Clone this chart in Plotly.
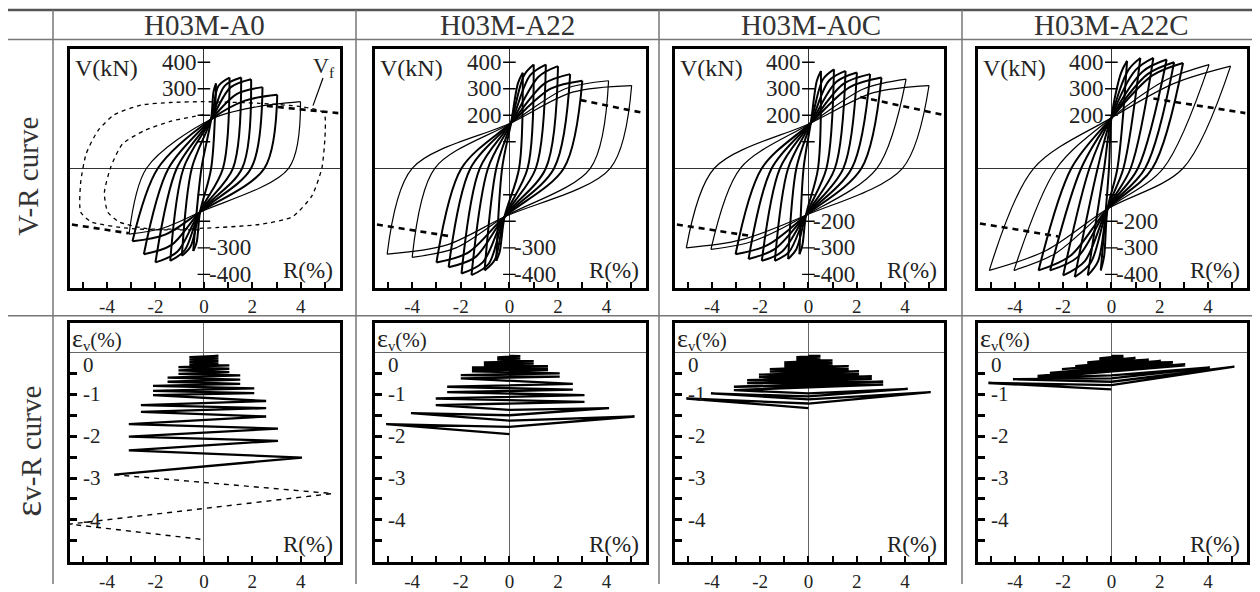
import plotly.graph_objects as go

# ---------------- data ----------------
specimens = ["H03M-A0", "H03M-A22", "H03M-A0C", "H03M-A22C"]
row_labels = ["V-R curve", "εv-R curve"]
x_tick_vals = [-4, -2, 0, 2, 4]
x_tick_text = ["-4", "-2", "0", "2", "4"]
v_tick_pos_labels = [[400, 300], [400, 300, 200], [400, 300, 200], [400, 300, 200]]
v_tick_neg_labels = [[-300, -400], [-300, -400], [-200, -300, -400], [-200, -300, -400]]
eps_tick_labels = [0, -1, -2, -3, -4]

# V-R hysteresis loops (per cycle amplitude):
# positive peak, upper-branch knee, descending zero crossing,
# negative peak, lower-branch knee, ascending zero crossing
A0_Rpos = [0.5, 1.06, 1.54, 1.95, 2.42, 3.03, 3.99]
A0_Vpos = [320, 342, 342, 336, 306, 277, 251]
A0_Rku = [0.4, 0.6, 0.85, 1.1, 1.35, 1.7, 2.2]
A0_Vku = [290, 310, 310, 305, 280, 255, 232]
A0_Rzd = [0.3, 0.79, 1.2, 1.58, 1.95, 2.5, 3.5]
A0_Rneg = [-0.44, -0.91, -1.39, -2.0, -2.48, -2.95, -3.09]
A0_Vneg = [-312, -330, -349, -355, -324, -275, -248]
A0_Rkl = [-0.3, -0.55, -0.8, -1.1, -1.35, -1.6, -1.7]
A0_Vkl = [-280, -295, -310, -315, -290, -250, -226]
A0_Rza = [-0.1, -0.5, -0.84, -1.12, -1.46, -1.9, -2.37]
A0_thick = [1, 1, 1, 1, 1, 1, 0]
A0_pinch = [(0.3, 185), (-0.16, -165)]

A22_Rpos = [0.55, 1.0, 1.5, 2.0, 2.5, 3.0, 4.08, 5.03]
A22_Vpos = [360, 391, 391, 385, 355, 330, 330, 312]
A22_Rku = [0.35, 0.6, 0.85, 1.2, 1.45, 1.7, 2.3, 2.6]
A22_Vku = [320, 350, 350, 345, 320, 300, 300, 287]
A22_Rzd = [0.4, 0.75, 1.09, 1.5, 1.84, 2.24, 3.33, 4.15]
A22_Rneg = [-0.54, -1.02, -1.56, -1.97, -2.5, -3.0, -4.0, -5.03]
A22_Vneg = [-349, -385, -403, -397, -373, -355, -336, -324]
A22_Rkl = [-0.4, -0.6, -0.85, -1.1, -1.4, -1.7, -2.2, -2.6]
A22_Vkl = [-315, -345, -360, -355, -335, -318, -300, -290]
A22_Rza = [-0.3, -0.54, -0.88, -1.22, -1.6, -1.97, -3.07, -4.0]
A22_thick = [1, 1, 1, 1, 1, 1, 0, 0]
A22_pinch = [(0.07, 171), (-0.2, -183)]

A0C_Rpos = [0.52, 1.06, 1.54, 2.01, 2.56, 3.03, 4.05, 5.0]
A0C_Vpos = [367, 373, 367, 361, 355, 342, 336, 312]
A0C_Rku = [0.35, 0.6, 0.85, 1.15, 1.45, 1.7, 2.3, 2.7]
A0C_Vku = [330, 335, 330, 325, 318, 305, 300, 285]
A0C_Rzd = [0.4, 0.75, 1.1, 1.45, 1.8, 2.2, 2.84, 3.9]
A0C_Rneg = [-0.37, -0.84, -1.39, -1.93, -2.48, -3.02, -4.04, -5.06]
A0C_Vneg = [-324, -342, -349, -349, -342, -324, -306, -300]
A0C_Rkl = [-0.25, -0.5, -0.8, -1.1, -1.4, -1.7, -2.3, -2.8]
A0C_Vkl = [-290, -305, -315, -315, -305, -290, -275, -270]
A0C_Rza = [-0.2, -0.5, -0.84, -1.18, -1.52, -1.93, -2.82, -3.9]
A0C_thick = [1, 1, 1, 1, 1, 1, 0, 0]
A0C_pinch = [(0.1, 171), (-0.1, -177)]

A22C_Rpos = [0.65, 1.2, 1.74, 2.29, 2.6, 2.97, 4.05, 4.94]
A22C_Vpos = [405, 416, 416, 410, 400, 397, 391, 385]
A22C_Rku = [0.4, 0.7, 1.0, 1.3, 1.5, 1.7, 2.3, 2.6]
A22C_Vku = [360, 370, 370, 365, 355, 350, 335, 320]
A22C_Rzd = [0.25, 0.5, 0.8, 1.1, 1.4, 1.7, 2.15, 2.97]
A22C_Rneg = [-0.44, -0.98, -1.52, -2.0, -2.54, -3.02, -4.04, -5.06]
A22C_Vneg = [-385, -404, -410, -404, -385, -385, -385, -385]
A22C_Rkl = [-0.3, -0.55, -0.85, -1.1, -1.4, -1.7, -2.3, -2.7]
A22C_Vkl = [-330, -350, -355, -350, -335, -330, -320, -310]
A22C_Rza = [-0.1, -0.3, -0.57, -0.91, -1.25, -1.66, -2.27, -3.22]
A22C_thick = [1, 1, 1, 1, 1, 1, 0, 0]
A22C_pinch = [(0.0, 190), (-0.16, -153)]

# A0 final (dashed) cycles
A0_dash_R = [0.0, -1.39, -2.48, -3.36, -3.84, -4.11, -3.97, -3.5, -2.34, -0.03, 2.29, 3.65, 4.46,
             4.87, 5.0, 5.0, 4.87, 4.05, 2.29, -0.03, -1.39, -2.61, -3.7, -4.38, -4.86, -5.09,
             -5.09, -4.65, -3.16, -1.8, 0.0]
A0_dash_V = [202, 177, 141, 92, 6, -92, -165, -202, -228, -226, -212, -183, -104, 0, 116, 196,
             214, 232, 245, 251, 248, 238, 202, 141, 55, -55, -165, -202, -226, -232, -232]

# Vf lines (positive branch, negative branch)
Vf_pos_R = [[2.6, 5.55], [2.93, 5.55], [2.15, 5.55], [1.74, 5.55]]
Vf_pos_V = [[235, 208], [257, 208], [269, 202], [263, 208]]
Vf_neg_R = [[-5.45, -3.1], [-5.45, -2.38], [-5.45, -2.27], [-5.45, -2.2]]
Vf_neg_V = [[-212, -245], [-212, -257], [-212, -257], [-208, -257]]

# volumetric strain vs drift (turning points of the sweeps)
A0_epsR = [0, 0.6, -0.6, 0.6, -0.6, 0.6, -0.6, 0.6, -0.6,
           1.05, -1.05, 1.05, -1.05, 1.05, -1.05,
           1.5, -1.5, 1.5, -1.5, 1.5,
           -2.1, 2.08, -2.1, 2.08, -2.1,
           2.57, -2.6, 2.57, -2.6, 2.57,
           -3.1, 3.06, -3.1, 3.06, -3.1,
           4.05, -3.7]
A0_eps = [-0.1, -0.08, -0.11, -0.14, -0.17, -0.20, -0.23, -0.26, -0.29,
          -0.31, -0.35, -0.39, -0.43, -0.47, -0.51,
          -0.55, -0.60, -0.65, -0.70, -0.75,
          -0.80, -0.86, -0.92, -0.97, -1.02,
          -1.16, -1.26, -1.33, -1.42, -1.53,
          -1.71, -1.82, -2.01, -2.11, -2.34,
          -2.51, -2.92]
A0_epsR_dash = [-3.7, 5.3, -5.55, 0]
A0_eps_dash = [-2.92, -3.37, -4.1, -4.47]

A22_epsR = [0, 0.45, -0.5, 0.45, -0.5, 0.45, -0.5,
            1.0, -1.05, 1.0, -1.05, 1.0, -1.05,
            1.59, -1.54, 1.59, -1.54, 1.59, -1.54,
            2.07, -2.0, 2.07, -2.0,
            2.61, -2.56, 2.61, -2.56,
            3.09, -3.03, 3.09, -3.03,
            0, 4.1, 0, -4.05, 0, 5.15, 0, -5.07, 0]
A22_eps = [-0.08, -0.09, -0.12, -0.14, -0.16, -0.18, -0.20,
           -0.21, -0.24, -0.26, -0.28, -0.30, -0.32,
           -0.33, -0.36, -0.38, -0.40, -0.42, -0.45,
           -0.50, -0.54, -0.58, -0.62,
           -0.75, -0.82, -0.89, -0.95,
           -1.02, -1.10, -1.18, -1.26,
           -1.37, -1.33, -1.50, -1.45, -1.63, -1.53, -1.78, -1.71, -1.95]

A0C_epsR = [0, 0.5, -0.5, 0.5, -0.5, 0.5, -0.5,
            1.0, -1.0, 1.0, -1.0, 1.0, -1.0,
            1.67, -1.6, 1.67, -1.6,
            2.1, -2.05, 2.1, -2.05,
            2.63, -2.54, 2.63, -2.54,
            3.1, -3.09, 3.1, -3.09,
            0, 4.12, 0, -4.04, 0, 5.07, 0, -5.06, 0]
A0C_eps = [-0.08, -0.08, -0.11, -0.12, -0.15, -0.16, -0.19,
           -0.19, -0.24, -0.25, -0.30, -0.31, -0.35,
           -0.33, -0.40, -0.40, -0.46,
           -0.45, -0.53, -0.52, -0.59,
           -0.57, -0.66, -0.63, -0.73,
           -0.70, -0.82, -0.77, -0.90,
           -0.98, -0.87, -1.05, -0.98, -1.12, -0.95, -1.22, -1.10, -1.33]

A22C_epsR = [0, 0.5, -0.5, 0.5, -0.5, 0.5, -0.5,
             1.0, -1.0, 1.0, -1.0, 1.0, -1.0,
             1.55, -1.5, 1.55, -1.5,
             2.05, -2.05, 2.05, -2.05,
             2.55, -2.55, 2.55, -2.55,
             3.06, -3.06, 3.06, -3.06,
             0, 4.08, 0, -4.08, 0, 5.1, 0, -5.1, 0]
A22C_eps = [-0.08, -0.08, -0.14, -0.11, -0.17, -0.14, -0.20,
            -0.13, -0.24, -0.16, -0.27, -0.19, -0.30,
            -0.17, -0.33, -0.20, -0.37,
            -0.20, -0.40, -0.24, -0.45,
            -0.23, -0.49, -0.27, -0.53,
            -0.28, -0.56, -0.31, -0.60,
            -0.55, -0.36, -0.62, -0.64, -0.70, -0.34, -0.78, -0.73, -0.88]

loops = [
    (A0_Rpos, A0_Vpos, A0_Rku, A0_Vku, A0_Rzd, A0_Rneg, A0_Vneg, A0_Rkl, A0_Vkl, A0_Rza,
     A0_thick, A0_pinch),
    (A22_Rpos, A22_Vpos, A22_Rku, A22_Vku, A22_Rzd, A22_Rneg, A22_Vneg, A22_Rkl, A22_Vkl,
     A22_Rza, A22_thick, A22_pinch),
    (A0C_Rpos, A0C_Vpos, A0C_Rku, A0C_Vku, A0C_Rzd, A0C_Rneg, A0C_Vneg, A0C_Rkl, A0C_Vkl,
     A0C_Rza, A0C_thick, A0C_pinch),
    (A22C_Rpos, A22C_Vpos, A22C_Rku, A22C_Vku, A22C_Rzd, A22C_Rneg, A22C_Vneg, A22C_Rkl,
     A22C_Vkl, A22C_Rza, A22C_thick, A22C_pinch),
]
eps_data = [(A0_epsR, A0_eps), (A22_epsR, A22_eps), (A0C_epsR, A0C_eps), (A22C_epsR, A22C_eps)]

# ---------------- layout geometry ----------------
OFF = 8                      # page body margin of the browser
W, H = 1260 - OFF, 592 - OFF
FONT = "Liberation Serif"
TXT = "#222222"
GRID = "#777777"


def px(x):
    return (x - OFF) / W


def py(y):
    return 1 - (y - OFF) / H


col_boxes = [(69.5, 339.5), (374.5, 645.5), (674.5, 943.5), (977.5, 1246.5)]
row_boxes = [(49.5, 291.5), (327.5, 569.5)]
col_lines = [53, 356, 659, 962]
R_RANGE = [-5.55, 5.6]
V_RANGE = [-450, 450]
E_RANGE = [-5.0, 0.7]

fig = go.Figure()
layout = dict(width=W, height=H, margin=dict(l=0, r=0, t=0, b=0), paper_bgcolor="white",
              plot_bgcolor="white", showlegend=False,
              font=dict(family=FONT, color=TXT, size=19))
annotations = []
shapes = []

for r in range(2):
    for c in range(4):
        idx = r * 4 + c + 1
        xa = "xaxis" if idx == 1 else f"xaxis{idx}"
        ya = "yaxis" if idx == 1 else f"yaxis{idx}"
        xref = "x" if idx == 1 else f"x{idx}"
        yref = "y" if idx == 1 else f"y{idx}"
        x0, x1 = col_boxes[c]
        y0, y1 = row_boxes[r]
        layout[xa] = dict(domain=[px(x0), px(x1)], range=R_RANGE, anchor=yref,
                          showline=True, mirror=True, linewidth=3, linecolor="black",
                          ticks="inside", ticklen=6, tickwidth=2, tickcolor="black",
                          tickvals=x_tick_vals, ticktext=x_tick_text,
                          minor=dict(ticks="inside", ticklen=6, tickwidth=2, tickcolor="black",
                                     tickvals=[-5, -3, -1, 1, 3, 5], showgrid=False),
                          tickfont=dict(size=19, family=FONT, color=TXT),
                          showgrid=False, zeroline=True, zerolinewidth=1,
                          zerolinecolor="#333333" if r == 0 else "#666666", fixedrange=True)
        ydict = dict(domain=[py(y1), py(y0)], anchor=xref, showline=True, mirror=True,
                     linewidth=3, linecolor="black", showgrid=False, zeroline=True,
                     zerolinewidth=1, zerolinecolor="#333333" if r == 0 else "#666666",
                     showticklabels=False, fixedrange=True)
        if r == 0:
            ydict.update(range=V_RANGE, ticks="")
        else:
            ydict.update(range=E_RANGE, ticks="inside", ticklen=7, tickwidth=2.5,
                         tickcolor="black",
                         tickvals=[-0.5, -1, -1.5, -2, -2.5, -3, -3.5, -4, -4.5])
        layout[ya] = ydict

        if r == 0:
            (Rp, Vp, Rku, Vku, Rzd, Rn, Vn, Rkl, Vkl, Rza, thick, pinch) = loops[c]
            pu, pl = pinch
            for want, wdt in ((1, 2.0), (0, 1.2)):
                xs, ys = [], []
                for i in range(len(Rp)):
                    if thick[i] != want:
                        continue
                    xs += [Rn[i], Rza[i], pu[0], Rku[i], Rp[i], None,
                           Rp[i], Rzd[i], pl[0], Rkl[i], Rn[i], None]
                    ys += [Vn[i], 0, pu[1], Vku[i], Vp[i], None,
                           Vp[i], 0, pl[1], Vkl[i], Vn[i], None]
                if xs:
                    fig.add_trace(go.Scatter(x=xs, y=ys, xaxis=xref, yaxis=yref, mode="lines",
                                             line=dict(color="black", width=wdt,
                                                       shape="spline", smoothing=0.9),
                                             hoverinfo="skip"))
            if c == 0:
                fig.add_trace(go.Scatter(x=A0_dash_R, y=A0_dash_V, xaxis=xref, yaxis=yref,
                                         mode="lines",
                                         line=dict(color="black", width=1.3, dash="4px,4px",
                                                   shape="spline", smoothing=0.6),
                                         hoverinfo="skip"))
            fig.add_trace(go.Scatter(x=Vf_pos_R[c] + [None] + Vf_neg_R[c],
                                     y=Vf_pos_V[c] + [None] + Vf_neg_V[c],
                                     xaxis=xref, yaxis=yref, mode="lines",
                                     line=dict(color="black", width=2.6, dash="6px,5px"),
                                     hoverinfo="skip"))
            fig.add_trace(go.Scatter(x=[0] * 8, y=[400, 300, 200, 100, -100, -200, -300, -400],
                                     xaxis=xref, yaxis=yref, mode="markers",
                                     marker=dict(symbol="line-ew", size=9,
                                                 line=dict(color="black", width=1.4)),
                                     hoverinfo="skip"))
            for v in v_tick_pos_labels[c]:
                annotations.append(dict(x=0, y=v, xref=xref, yref=yref, text=str(v),
                                        showarrow=False, xanchor="right", yanchor="middle",
                                        xshift=-5, font=dict(size=23, family=FONT, color=TXT)))
            for v in v_tick_neg_labels[c]:
                annotations.append(dict(x=0, y=v, xref=xref, yref=yref, text=str(v),
                                        showarrow=False, xanchor="left", yanchor="middle",
                                        xshift=3, font=dict(size=23, family=FONT, color=TXT)))
            annotations.append(dict(x=0.012, y=0.985, xref=f"{xref} domain",
                                    yref=f"{yref} domain", text="V(kN)", showarrow=False,
                                    xanchor="left", yanchor="top",
                                    font=dict(size=24, family=FONT, color=TXT)))
        else:
            er, ev = eps_data[c]
            fig.add_trace(go.Scatter(x=er, y=ev, xaxis=xref, yaxis=yref, mode="lines",
                                     line=dict(color="black", width=2.3), hoverinfo="skip"))
            if c == 0:
                fig.add_trace(go.Scatter(x=A0_epsR_dash, y=A0_eps_dash, xaxis=xref, yaxis=yref,
                                         mode="lines",
                                         line=dict(color="black", width=1.4, dash="5px,5px"),
                                         hoverinfo="skip"))
            for e in eps_tick_labels:
                annotations.append(dict(x=R_RANGE[0], y=e, xref=xref, yref=yref, text=str(e),
                                        showarrow=False, xanchor="left", yanchor="middle",
                                        xshift=11, yshift=-13 if e == 0 else 0,
                                        font=dict(size=21, family=FONT, color=TXT)))
            annotations.append(dict(x=0.005, y=1.0, xref=f"{xref} domain",
                                    yref=f"{yref} domain",
                                    text="<span style='font-size:26px'>ε</span>"
                                         "<sub>v</sub>(%)",
                                    showarrow=False, xanchor="left", yanchor="top",
                                    borderpad=0,
                                    font=dict(size=21, family=FONT, color=TXT)))
        annotations.append(dict(x=0.985, y=0.01, xref=f"{xref} domain", yref=f"{yref} domain",
                                text="R(%)", showarrow=False, xanchor="right", yanchor="bottom",
                                font=dict(size=23, family=FONT, color=TXT)))

# header texts and row labels
for c, name in enumerate(specimens):
    cx = (col_lines[c] + (col_lines[c + 1] if c < 3 else 1260)) / 2
    annotations.append(dict(x=px(cx), y=py(25), xref="paper", yref="paper", text=name,
                            showarrow=False, xanchor="center", yanchor="middle",
                            font=dict(size=29, family=FONT, color="#333333")))
annotations.append(dict(x=px(28), y=py(179), xref="paper", yref="paper", text=row_labels[0],
                        textangle=-90, showarrow=False, xanchor="center", yanchor="middle",
                        font=dict(size=29, family=FONT, color="#333333")))
annotations.append(dict(x=px(28), y=py(458), xref="paper", yref="paper",
                        text="<span style='font-size:38px'>ε</span>v-R curve",
                        textangle=-90, showarrow=False, xanchor="center", yanchor="middle",
                        font=dict(size=29, family=FONT, color="#333333")))
annotations.append(dict(x=px(324), y=py(68), xref="paper", yref="paper", text="V<sub>f</sub>",
                        showarrow=False, xanchor="center", yanchor="middle",
                        font=dict(size=22, family=FONT, color=TXT)))
shapes.append(dict(type="line", xref="paper", yref="paper", x0=px(323), y0=py(79), x1=px(313),
                   y1=py(107), line=dict(color="black", width=1.2)))

# table rules
shapes.append(dict(type="line", xref="paper", yref="paper", x0=0, x1=1, y0=py(10), y1=py(10),
                   line=dict(color="#555555", width=2.5)))
shapes.append(dict(type="line", xref="paper", yref="paper", x0=0, x1=1, y0=py(40), y1=py(40),
                   line=dict(color=GRID, width=1.5)))
shapes.append(dict(type="line", xref="paper", yref="paper", x0=0, x1=1, y0=py(320), y1=py(320),
                   line=dict(color=GRID, width=1.5)))
for xl in col_lines:
    shapes.append(dict(type="line", xref="paper", yref="paper", x0=px(xl), x1=px(xl),
                       y0=py(10), y1=0, line=dict(color=GRID, width=1.5)))

layout["annotations"] = annotations
layout["shapes"] = shapes
fig.update_layout(**layout)
fig.write_html("out.html")
